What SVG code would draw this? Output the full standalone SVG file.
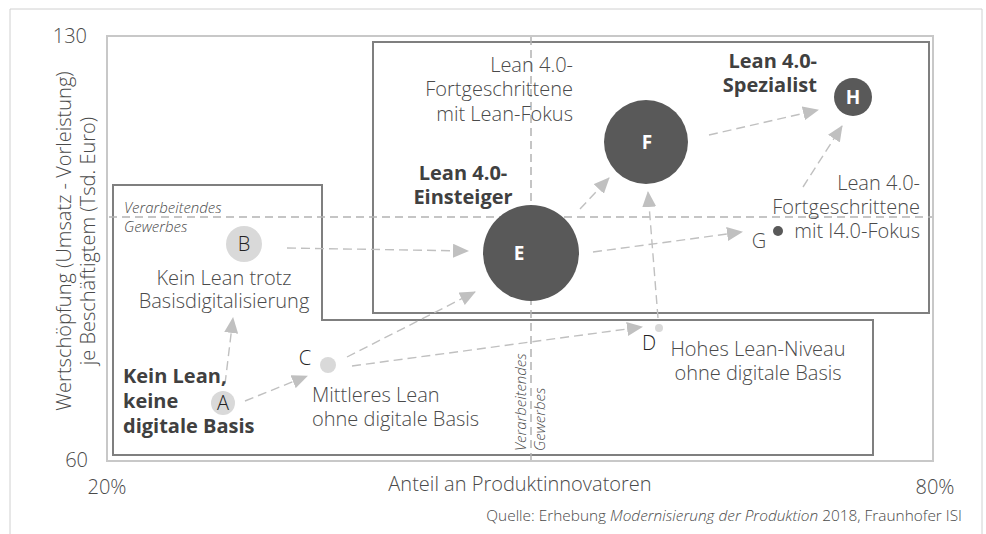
<svg xmlns="http://www.w3.org/2000/svg" width="986" height="534" viewBox="0 0 986 534">
<style>
text{font-family:"Open Sans","Liberation Sans",sans-serif;fill:#4a4a4a;font-weight:300}
.t{font-size:20px}
.y{font-size:20px}
.b{font-size:20px;font-weight:bold;fill:#404040}
.i{font-size:15px;font-style:italic}
.q{font-size:15.4px}
.box{fill:none;stroke:#7f7f7f;stroke-width:2}
.dl{stroke:#b3b3b3;stroke-width:1.5;stroke-dasharray:8 5;fill:none}
.ar{stroke:#c0c0c0;stroke-width:1.4;stroke-dasharray:9 5;fill:none;marker-end:url(#ah)}
.lc{fill:#d9d9d9}
.dc{fill:#595959}
.wl{font-size:19px;font-weight:bold;fill:#fff}
.k{font-size:20px;fill:#222}
</style>
<defs>
<marker id="ah" markerWidth="16" markerHeight="14" refX="15" refY="7" orient="auto" markerUnits="userSpaceOnUse"><path d="M0,0 L16,7 L0,14 Z" fill="#c0c0c0"/></marker>
</defs>
<rect width="986" height="534" fill="#fff"/>
<path d="M10,534 V9 H982 V534" fill="none" stroke="#d0d0d0" stroke-width="1"/>
<g id="frame">
<rect x="107" y="36" width="826" height="425" fill="none" stroke="#c8c8c8" stroke-width="2"/>
<rect class="box" x="373" y="42" width="556" height="271"/>
<path class="box" d="M113,185 H322 V320 H873 V455 H113 Z"/>
<line class="dl" x1="109" y1="217" x2="932" y2="217"/>
<line class="dl" x1="531" y1="37" x2="531" y2="460"/>
</g>
<g id="axes">
<text class="t" x="87" y="43" text-anchor="end">130</text>
<text class="t" x="88" y="467" text-anchor="end">60</text>
<text class="t" x="107" y="494" text-anchor="middle">20%</text>
<text class="t" x="935" y="494" text-anchor="middle">80%</text>
<text class="t" x="520" y="491" text-anchor="middle">Anteil an Produktinnovatoren</text>
<text class="y" transform="translate(71,241) rotate(-90)" text-anchor="middle">Wertschöpfung (Umsatz - Vorleistung)</text>
<text class="y" transform="translate(95,241) rotate(-90)" text-anchor="middle">je Beschäftigtem (Tsd. Euro)</text>
<text class="i" x="124" y="213">Verarbeitendes</text>
<text class="i" x="124" y="232">Gewerbes</text>
<text class="i" transform="translate(526,451) rotate(-90)">Verarbeitendes</text>
<text class="i" transform="translate(545,451) rotate(-90)">Gewerbes</text>
<text class="q" x="962" y="521" text-anchor="end">Quelle: Erhebung <tspan font-style="italic">Modernisierung der Produktion</tspan> 2018, Fraunhofer ISI</text>
</g>
<g id="connectors">
<line class="ar" x1="225" y1="384" x2="233" y2="318"/>
<line class="ar" x1="245" y1="401" x2="307" y2="376"/>
<line class="ar" x1="287" y1="248" x2="468" y2="251"/>
<line class="ar" x1="347" y1="357" x2="475" y2="292"/>
<line class="ar" x1="352" y1="366" x2="642" y2="327"/>
<line class="ar" x1="580" y1="209" x2="609" y2="178"/>
<line class="ar" x1="658" y1="318" x2="648" y2="192"/>
<line class="ar" x1="593" y1="252" x2="742" y2="232"/>
<line class="ar" x1="709" y1="135" x2="818" y2="110"/>
<line class="ar" x1="803" y1="187" x2="842" y2="126"/>
</g>
<g id="node-A">
<circle class="lc" cx="223" cy="403" r="12"/>
<text class="k" x="223" y="410" text-anchor="middle">A</text>
<text class="b" x="123" y="383">Kein Lean,</text>
<text class="b" x="123" y="408">keine</text>
<text class="b" x="123" y="433">digitale Basis</text>
</g>
<g id="node-B">
<circle class="lc" cx="244" cy="244" r="18"/>
<text class="k" x="244" y="251" text-anchor="middle">B</text>
<text class="t" x="224" y="285" text-anchor="middle">Kein Lean trotz</text>
<text class="t" x="224" y="308" text-anchor="middle">Basisdigitalisierung</text>
</g>
<g id="node-C">
<circle class="lc" cx="328" cy="365" r="8"/>
<text class="k" x="305" y="365" text-anchor="middle">C</text>
<text class="t" x="312" y="402">Mittleres Lean</text>
<text class="t" x="312" y="426">ohne digitale Basis</text>
</g>
<g id="node-D">
<circle class="lc" cx="659" cy="328" r="4"/>
<text class="k" x="649" y="350" text-anchor="middle">D</text>
<text class="t" x="758" y="356" text-anchor="middle">Hohes Lean-Niveau</text>
<text class="t" x="758" y="380" text-anchor="middle">ohne digitale Basis</text>
</g>
<g id="node-E">
<circle class="dc" cx="531" cy="253" r="48"/>
<text class="wl" x="519" y="260" text-anchor="middle">E</text>
<text class="b" x="463" y="180" text-anchor="middle">Lean 4.0-</text>
<text class="b" x="463" y="204" text-anchor="middle">Einsteiger</text>
</g>
<g id="node-F">
<circle class="dc" cx="646" cy="142" r="42"/>
<text class="wl" x="647" y="149" text-anchor="middle">F</text>
<text class="t" x="573" y="72" text-anchor="end">Lean 4.0-</text>
<text class="t" x="573" y="96" text-anchor="end">Fortgeschrittene</text>
<text class="t" x="573" y="121" text-anchor="end">mit Lean-Fokus</text>
</g>
<g id="node-G">
<circle class="dc" cx="778" cy="231" r="5"/>
<text class="t" x="759" y="248" text-anchor="middle">G</text>
<text class="t" x="920" y="190" text-anchor="end">Lean 4.0-</text>
<text class="t" x="920" y="214" text-anchor="end">Fortgeschrittene</text>
<text class="t" x="920" y="238" text-anchor="end">mit I4.0-Fokus</text>
</g>
<g id="node-H">
<circle class="dc" cx="853" cy="97" r="19"/>
<text class="wl" x="853" y="104" text-anchor="middle">H</text>
<text class="b" x="817" y="68" text-anchor="end">Lean 4.0-</text>
<text class="b" x="817" y="92" text-anchor="end">Spezialist</text>
</g>
</svg>
